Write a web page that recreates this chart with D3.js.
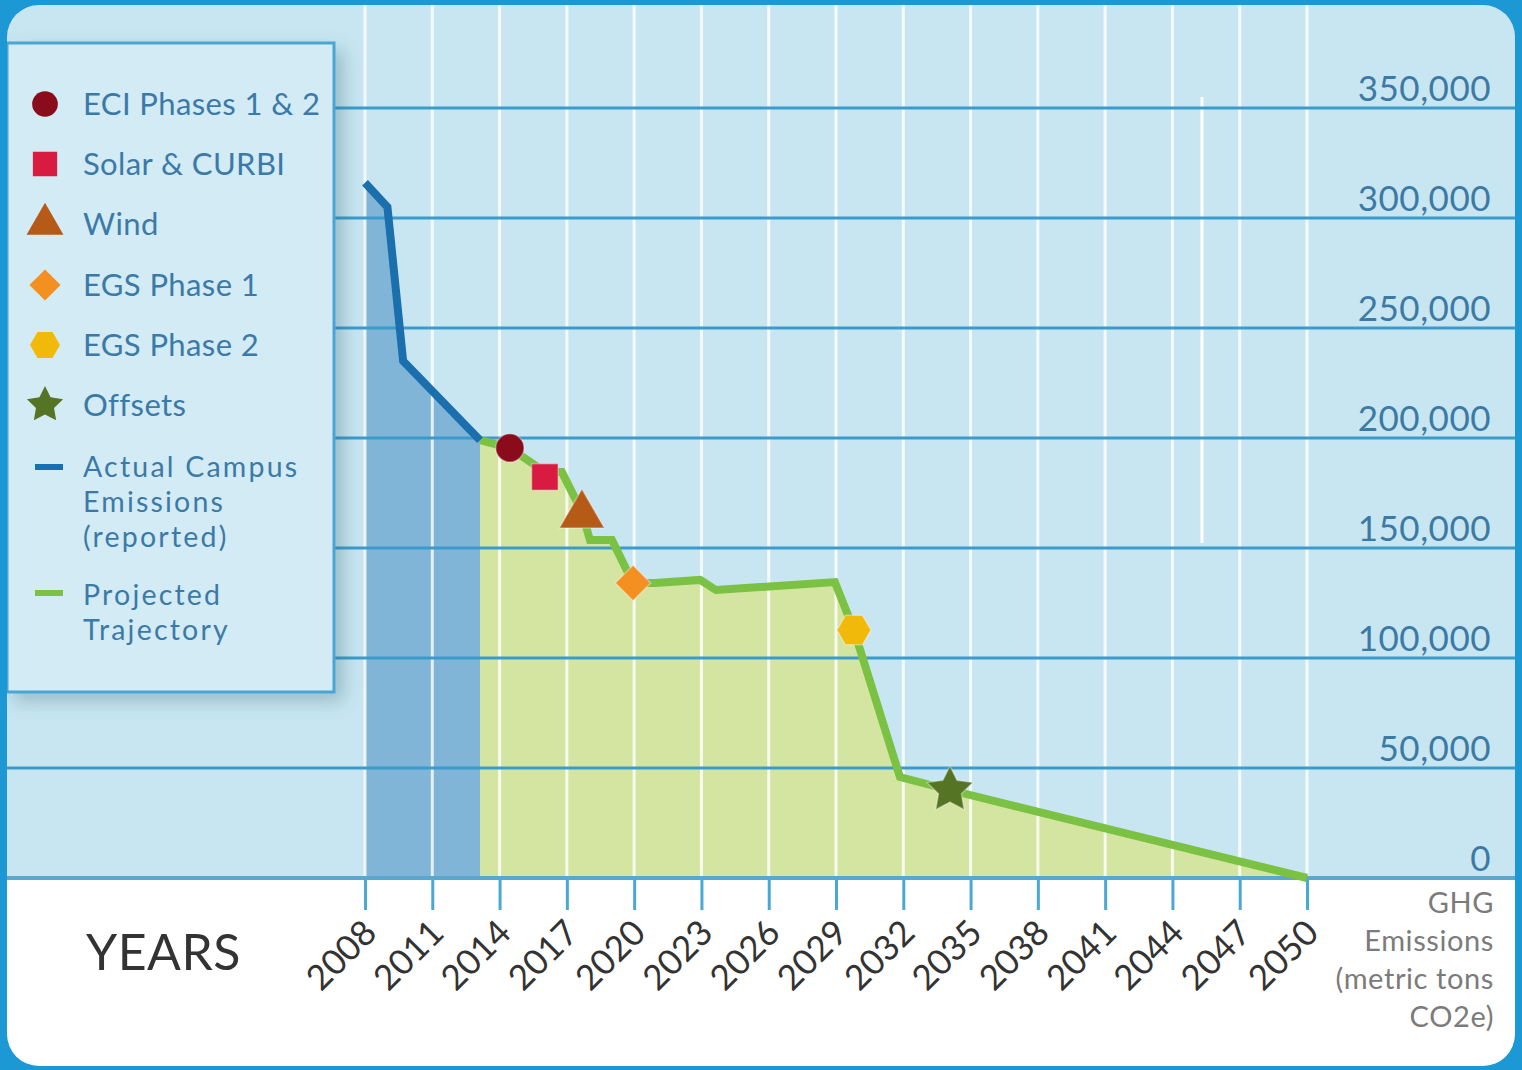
<!DOCTYPE html>
<html><head><meta charset="utf-8">
<script src="https://cdn.jsdelivr.net/npm/d3@7"></script>
<style>html,body{margin:0;padding:0;background:#fff;} svg{display:block;font-family:Lato,"Open Sans",sans-serif;}</style>
</head><body>
<svg id="chart" width="1522" height="1070"></svg>
<script>
// ---------- data ----------
const yearTicks = [2008, 2011, 2014, 2017, 2020, 2023, 2026, 2029, 2032, 2035, 2038, 2041, 2044, 2047, 2050];
const valueTicks = [0, 50000, 100000, 150000, 200000, 250000, 300000, 350000];

const actualYears  = [2008, 2009, 2009.7, 2013.13];
const actualValues = [316000, 305000, 235000, 199000];

const projectedYears  = [2013.13, 2014.46, 2016.02, 2016.78, 2017.67, 2018.03, 2019.01, 2019.95, 2020.93, 2022.94, 2023.65, 2028.95, 2029.8, 2031.85, 2034.08, 2050];
const projectedValues = [199000, 195500, 184500, 184500, 166400, 153600, 153600, 134100, 134100, 135500, 130900, 134500, 112700, 45900, 40000, 0];

const milestoneNames  = ["ECI Phases 1 & 2", "Solar & CURBI", "Wind", "EGS Phase 1", "EGS Phase 2", "Offsets"];
const milestoneYears  = [2014.46, 2016.02, 2017.67, 2019.95, 2029.8, 2034.08];
const milestoneValues = [195500, 182300, 165000, 134100, 112700, 40000];
const milestoneColors = ["#8a0b1c", "#d81b40", "#b65a17", "#f39020", "#f1ba0b", "#557424"];
const milestoneShapes = ["circle", "square", "triangle", "diamond", "hexagon", "star"];

const seriesNames  = [["Actual Campus", "Emissions", "(reported)"], ["Projected", "Trajectory"]];
const seriesColors = ["#1b6fad", "#7bc143"];
const yAxisTitle = ["GHG", "Emissions", "(metric tons", "CO2e)"];
const xAxisTitle = "YEARS";

// ---------- setup ----------
const svg = d3.select("#chart");
const W = 1522, H = 1070;
const x = d3.scaleLinear().domain([2008, 2050]).range([365, 1307]);
const y = d3.scaleLinear().domain([0, 350000]).range([878, 108]);

const defs = svg.append("defs");
defs.append("clipPath").attr("id", "frameClip")
  .append("rect").attr("x", 7).attr("y", 5).attr("width", 1508).attr("height", 1061).attr("rx", 32);
const shadow = defs.append("filter").attr("id", "shadow").attr("x", "-20%").attr("y", "-20%").attr("width", "150%").attr("height", "150%");
shadow.append("feDropShadow").attr("dx", 8).attr("dy", 8).attr("stdDeviation", 9).attr("flood-color", "#2a5a70").attr("flood-opacity", 0.3);

svg.append("rect").attr("width", W).attr("height", H).attr("fill", "#1c98d4");
const g = svg.append("g").attr("clip-path", "url(#frameClip)");
g.append("rect").attr("x", 0).attr("y", 0).attr("width", W).attr("height", 880).attr("fill", "#c8e6f1");
g.append("rect").attr("x", 0).attr("y", 880).attr("width", W).attr("height", 200).attr("fill", "#ffffff");

// areas
const actualData = actualYears.map((d, i) => ({yr: d, v: actualValues[i]}));
const projData = projectedYears.map((d, i) => ({yr: d, v: projectedValues[i]}));
const area = d3.area().x(d => x(d.yr)).y0(y(0)).y1(d => y(d.v));
g.append("path").datum(actualData).attr("d", area).attr("fill", "#80b5d7");
g.append("path").datum(projData).attr("d", area).attr("fill", "#d4e5a1");

// vertical grid
g.append("g").selectAll("line").data(yearTicks).join("line")
  .attr("x1", d => x(d)).attr("x2", d => x(d)).attr("y1", 0).attr("y2", y(0))
  .attr("stroke", "#ffffff").attr("stroke-opacity", 0.8).attr("stroke-width", 3);
// stray white line in reference
g.append("line").attr("x1", 1202).attr("x2", 1202).attr("y1", 97).attr("y2", 543)
  .attr("stroke", "#ffffff").attr("stroke-width", 3);

// horizontal grid
g.append("g").selectAll("line").data(valueTicks.filter(v => v > 0)).join("line")
  .attr("x1", 0).attr("x2", W).attr("y1", d => y(d)).attr("y2", d => y(d))
  .attr("stroke", "#3b9bcb").attr("stroke-width", 3);

// x axis
const xAxis = g.append("g").attr("transform", "translate(0,879)")
  .call(d3.axisBottom(x).tickValues(yearTicks).tickSize(31).tickFormat(d3.format("d")));
xAxis.select(".domain").remove();
xAxis.selectAll(".tick line").attr("stroke", "#4aa8d4").attr("stroke-width", 3);
xAxis.selectAll(".tick text")
  .attr("x", 0).attr("y", 0).attr("dy", 0)
  .attr("transform", "translate(13,56) rotate(-45)")
  .attr("text-anchor", "end")
  .attr("fill", "#333333")
  .style("font-family", "Lato, sans-serif")
  .style("font-size", "35px");
g.append("line").attr("x1", 0).attr("x2", W).attr("y1", y(0)).attr("y2", y(0))
  .attr("stroke", "#5aa7cf").attr("stroke-width", 4);

// y axis labels
const yAxis = g.append("g").attr("transform", "translate(1491,0)")
  .call(d3.axisLeft(y).tickValues(valueTicks).tickSize(0).tickPadding(0).tickFormat(d3.format(",")));
yAxis.select(".domain").remove();
yAxis.selectAll(".tick text")
  .attr("dy", "-8px")
  .attr("fill", "#3c7aa6")
  .style("font-family", "Lato, sans-serif")
  .style("font-size", "35px")
  .style("letter-spacing", "0.5px");

// lines
const line = d3.line().x(d => x(d.yr)).y(d => y(d.v));
g.append("path").datum(projData).attr("d", line).attr("fill", "none")
  .attr("stroke", seriesColors[1]).attr("stroke-width", 8).attr("stroke-linejoin", "miter");
g.append("path").datum(actualData).attr("d", line).attr("fill", "none")
  .attr("stroke", seriesColors[0]).attr("stroke-width", 8).attr("stroke-linejoin", "miter");

// symbol generator
function shapePath(shape, s) {
  if (shape === "hexagon") {
    const pts = d3.range(6).map(i => [s * Math.cos(i * Math.PI / 3), s * Math.sin(i * Math.PI / 3)]);
    return "M" + pts.map(p => p.join(",")).join("L") + "Z";
  }
  if (shape === "star") {
    const pts = d3.range(10).map(i => {
      const r = i % 2 ? s * 0.5 : s;
      const a = -Math.PI / 2 + i * Math.PI / 5;
      return [r * Math.cos(a), r * Math.sin(a)];
    });
    return "M" + pts.map(p => p.join(",")).join("L") + "Z";
  }
  const map = {circle: d3.symbolCircle, square: d3.symbolSquare, triangle: d3.symbolTriangle, diamond: d3.symbolSquare};
  return d3.symbol().type(map[shape]).size(s * s * 2.3)();
}
const markerSize = {circle: 16.5, square: 17.5, triangle: 19.5, diamond: 16.5, hexagon: 17, star: 24};
const legendSize = {circle: 15, square: 16, triangle: 16, diamond: 14.5, hexagon: 15, star: 19};

g.append("g").selectAll("path").data(milestoneNames).join("path")
  .attr("d", (d, i) => shapePath(milestoneShapes[i], markerSize[milestoneShapes[i]]))
  .attr("transform", (d, i) => `translate(${x(milestoneYears[i])},${y(milestoneValues[i])})` + (milestoneShapes[i] === "diamond" ? " rotate(45)" : ""))
  .attr("fill", (d, i) => milestoneColors[i])
  .attr("stroke", "rgba(255,255,255,0.35)").attr("stroke-width", 1.5);

// legend
const lg = g.append("g");
lg.append("rect").attr("x", 7).attr("y", 43).attr("width", 327).attr("height", 649)
  .attr("fill", "#d3ebf4").attr("stroke", "#4aa5d5").attr("stroke-width", 3).attr("filter", "url(#shadow)");
const itemY = [104, 164, 224, 285, 345, 405];
milestoneNames.forEach((name, i) => {
  lg.append("path").attr("d", shapePath(milestoneShapes[i], legendSize[milestoneShapes[i]]))
    .attr("transform", `translate(45,${itemY[i]})` + (milestoneShapes[i] === "diamond" ? " rotate(45)" : ""))
    .attr("fill", milestoneColors[i]);
  lg.append("text").attr("x", 83).attr("y", itemY[i]).attr("dy", "0.36em")
    .attr("fill", "#3b7aa8").style("font-size", "31px").style("letter-spacing", "0.4px").text(name);
});
const seriesY = [467, 595];
seriesNames.forEach((lines, i) => {
  lg.append("line").attr("x1", 35).attr("x2", 63).attr("y1", seriesY[i] - (i ? 2 : 0)).attr("y2", seriesY[i] - (i ? 2 : 0))
    .attr("stroke", seriesColors[i]).attr("stroke-width", 6);
  lines.forEach((t, j) => {
    lg.append("text").attr("x", 83).attr("y", seriesY[i] + j * 35).attr("dy", "0.36em")
      .attr("fill", "#3b7aa8").style("font-size", "28.5px").style("letter-spacing", "2.2px").text(t);
  });
});

// titles
g.append("text").attr("x", 86).attr("y", 970).attr("fill", "#333333")
  .style("font-size", "50px").style("letter-spacing", "0.5px").text(xAxisTitle);
g.append("g").selectAll("text").data(yAxisTitle).join("text")
  .attr("x", 1494).attr("y", (d, i) => 913 + i * 38).attr("text-anchor", "end")
  .attr("fill", "#7b7b7b").style("font-size", "29px").style("letter-spacing", "0.6px").text(d => d);
</script>
</body></html>
